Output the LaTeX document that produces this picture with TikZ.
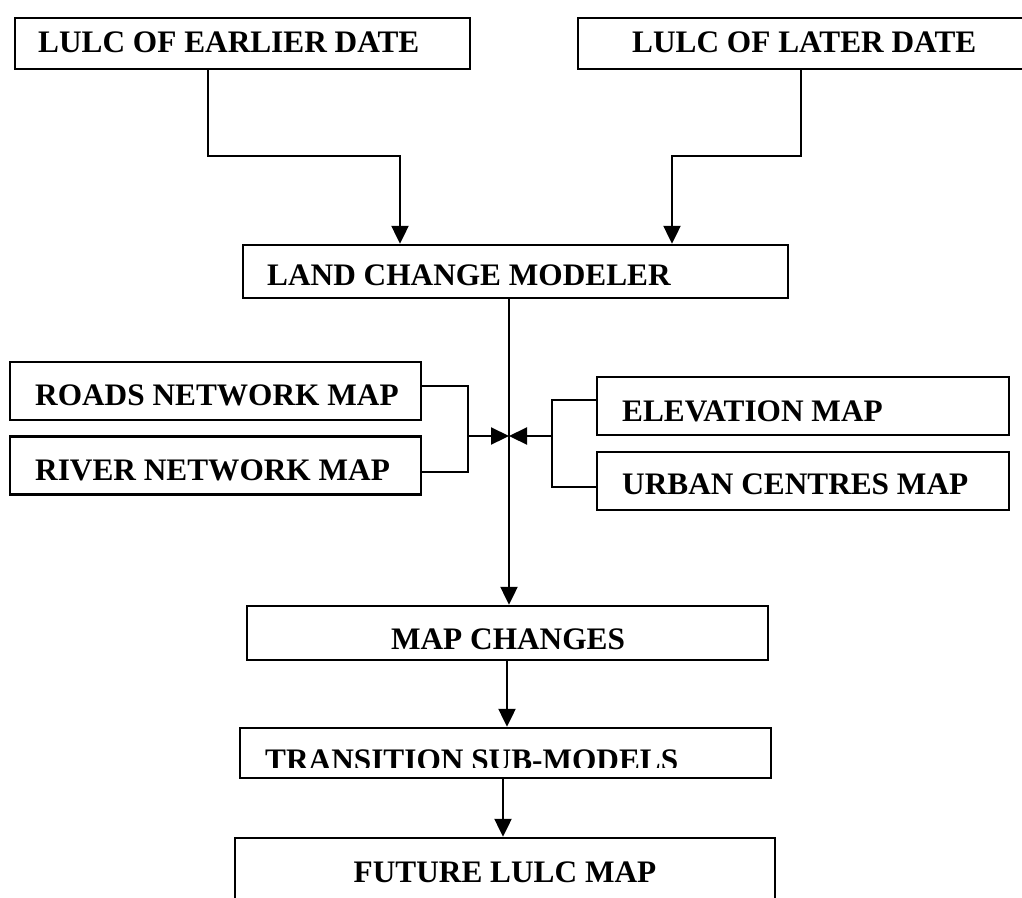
\documentclass[tikz,border=0pt]{standalone}
\usepackage{fontspec}
\setmainfont{Liberation Serif}
\usetikzlibrary{arrows.meta}
\begin{document}
\begin{tikzpicture}[x=1pt,y=-1pt,
  box/.style={draw, line width=2.4pt, inner sep=0pt, rectangle},
  lbl/.style={inner sep=0pt, anchor=base west, font=\fontsize{31.3}{36}\selectfont\bfseries},
  conn/.style={line width=2.2pt},
  arr/.style={conn, -{Triangle[length=18pt,width=17pt]}}]
\useasboundingbox (0,0) rectangle (1022,897);
\clip (0,0) rectangle (1022,897);
% boxes
\node[box, minimum width=455pt, minimum height=51pt] (earlier) at (242.5,43.5) {};
\node[box, minimum width=450pt, minimum height=51pt] (later) at (803,43.5) {};
\node[box, minimum width=545pt, minimum height=53pt] (lcm) at (515.5,271.5) {};
\node[box, minimum width=411pt, minimum height=58pt] (roads) at (215.5,391) {};
\node[box, minimum width=411pt, minimum height=58pt] (river) at (215.5,465.5) {};
\node[box, minimum width=412pt, minimum height=58pt] (elev) at (803,406) {};
\node[box, minimum width=412pt, minimum height=58pt] (urban) at (803,481) {};
\node[box, minimum width=521pt, minimum height=54pt] (mapch) at (507.5,633) {};
\node[box, minimum width=531pt, minimum height=50pt] (trans) at (505.5,753) {};
\node[box, minimum width=540pt, minimum height=80pt] (future) at (505,878) {};
% labels
\node[lbl] (earlierT) at (38,52) {LULC OF EARLIER DATE};
\node[lbl] (laterT) at (632,52) {LULC OF LATER DATE};
\node[lbl] (lcmT) at (267,285) {LAND CHANGE MODELER};
\node[lbl] (roadsT) at (35,405) {ROADS NETWORK MAP};
\node[lbl] (riverT) at (35,480) {RIVER NETWORK MAP};
\node[lbl] (elevT) at (622,421) {ELEVATION MAP};
\node[lbl] (urbanT) at (622,494) {URBAN CENTRES MAP};
\node[lbl, anchor=base] (mapchT) at (508,649) {MAP CHANGES};
\begin{scope}
\clip (240,700) rectangle (771,767);
\node[lbl] (transT) at (265,770) {TRANSITION SUB-MODELS};
\end{scope}
\node[lbl, anchor=base] (futureT) at (505,882) {FUTURE LULC MAP};
% connectors
\coordinate (jn) at (509,436);
\draw[arr] (earlier.south -| 208,0) -- (208,156) -- (400,156) -- (lcm.north -| 400,0);
\draw[arr] (later.south -| 801,0) -- (801,156) -- (672,156) -- (lcm.north -| 672,0);
\draw[arr] (lcm.south -| 509,0) -- (mapch.north -| 509,0);
\draw[conn] (roads.east |- 0,386) -- (468,386) -- (468,472) -- (river.east |- 0,472);
\draw[arr] (468,436) -- (jn);
\draw[conn] (elev.west |- 0,400) -- (552,400) -- (552,487) -- (urban.west |- 0,487);
\draw[arr] (552,436) -- (jn);
\draw[arr] (mapch.south -| 507,0) -- (trans.north -| 507,0);
\draw[arr] (trans.south -| 503,0) -- (future.north -| 503,0);
\end{tikzpicture}
\end{document}
